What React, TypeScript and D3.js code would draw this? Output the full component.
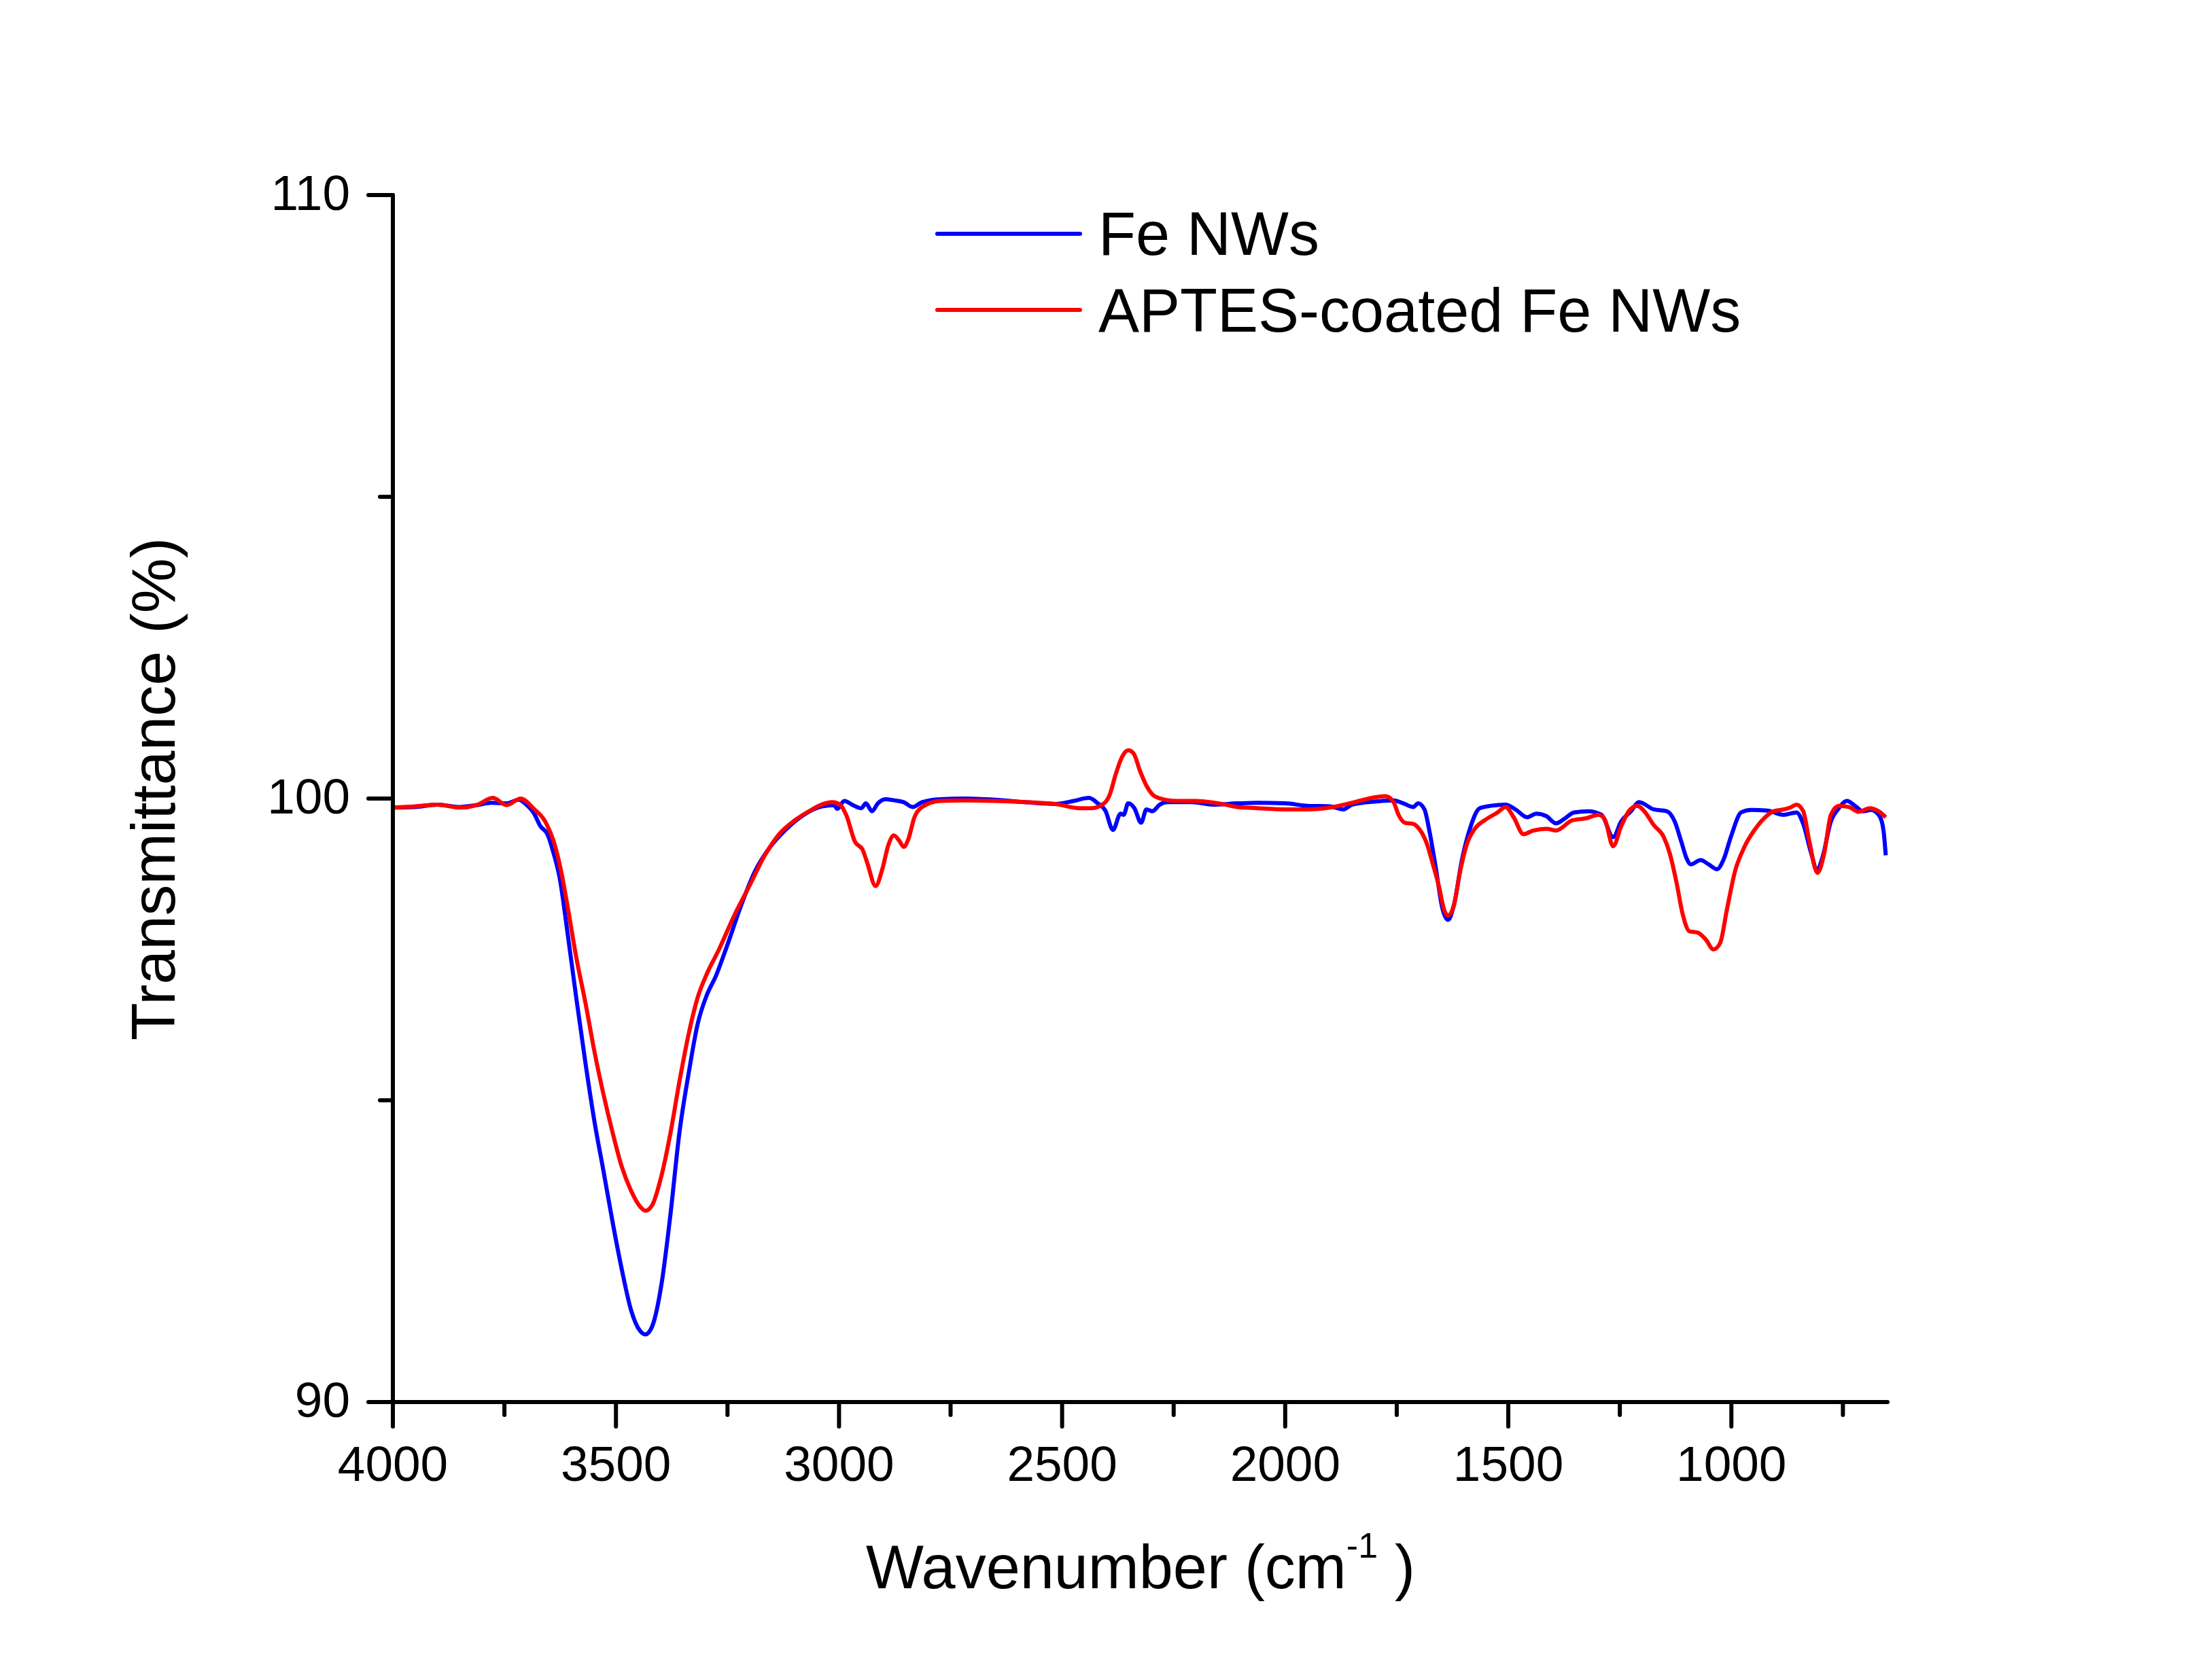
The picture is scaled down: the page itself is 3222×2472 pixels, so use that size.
import React from "react";
import * as d3 from "d3";

// ---------- data ----------
const feWn = [4000,3950,3900,3850,3813,3779,3745,3718,3701,3684,3670,3653,3640,3626,3609,3589,3568,3548,3528,3507,3487,3466,3446,3434,3419,3398,3378,3358,3337,3317,3296,3276,3249,3222,3188,3154,3120,3079,3038,3011,3004,2988,2971,2950,2940,2926,2913,2896,2876,2855,2835,2814,2773,2719,2651,2583,2515,2474,2440,2420,2403,2386,2369,2362,2352,2338,2323,2311,2298,2281,2264,2209,2162,2107,2061,2000,1950,1900,1870,1850,1800,1757,1735,1713,1702,1688,1677,1662,1648,1635,1622,1604,1586,1564,1539,1506,1484,1458,1437,1415,1393,1375,1353,1320,1291,1265,1247,1225,1207,1174,1145,1127,1112,1101,1091,1069,1051,1032,1018,1000,978,956,919,883,854,839,821,808,796,777,759,741,723,705,687,668,659,654];
const feT = [99.85,99.86,99.9,99.86,99.89,99.93,99.92,99.98,99.9,99.76,99.55,99.4,99.1,98.68,97.8,96.7,95.6,94.64,93.83,92.96,92.2,91.52,91.18,91.12,91.25,91.95,93.1,94.45,95.45,96.26,96.75,97.06,97.6,98.18,98.8,99.2,99.48,99.73,99.87,99.89,99.83,99.96,99.9,99.84,99.92,99.79,99.92,99.99,99.97,99.94,99.86,99.94,99.99,100.0,99.98,99.94,99.91,99.96,100.01,99.92,99.8,99.48,99.75,99.73,99.92,99.84,99.6,99.82,99.79,99.9,99.94,99.94,99.9,99.92,99.93,99.92,99.88,99.87,99.82,99.9,99.95,99.97,99.92,99.86,99.92,99.82,99.47,98.83,98.19,97.99,98.23,98.98,99.5,99.84,99.88,99.9,99.82,99.69,99.75,99.71,99.59,99.66,99.77,99.79,99.73,99.36,99.62,99.79,99.94,99.82,99.79,99.62,99.28,99.02,98.91,98.98,98.91,98.83,98.98,99.39,99.77,99.81,99.8,99.73,99.77,99.58,99.09,98.81,99.02,99.62,99.84,99.96,99.88,99.79,99.81,99.71,99.47,99.06];

const aptesWn = [4000,3950,3900,3850,3813,3776,3745,3714,3684,3657,3640,3623,3609,3589,3568,3548,3528,3507,3487,3466,3446,3434,3419,3398,3378,3358,3337,3317,3296,3269,3235,3201,3167,3133,3099,3065,3039,3015,2998,2984,2964,2947,2937,2918,2903,2889,2877,2865,2855,2845,2831,2814,2773,2719,2651,2583,2515,2461,2434,2406,2393,2380,2365,2352,2340,2325,2310,2295,2284,2243,2202,2148,2107,2061,2000,1950,1900,1850,1800,1775,1757,1746,1732,1713,1699,1684,1670,1655,1644,1635,1622,1608,1593,1575,1553,1524,1506,1488,1466,1444,1415,1393,1356,1327,1298,1284,1265,1247,1229,1211,1193,1174,1152,1138,1123,1109,1094,1076,1058,1040,1025,1010,992,970,949,927,905,883,868,854,839,825,807,792,777,759,737,715,690,668,654];
const aptesT = [99.85,99.87,99.9,99.85,99.89,100.01,99.89,100.0,99.83,99.6,99.3,98.8,98.24,97.37,96.6,95.8,95.1,94.45,93.9,93.5,93.24,93.17,93.26,93.75,94.45,95.3,96.1,96.7,97.1,97.5,98.06,98.55,99.05,99.42,99.64,99.8,99.9,99.94,99.9,99.73,99.28,99.15,98.94,98.55,98.83,99.24,99.39,99.3,99.2,99.32,99.69,99.86,99.96,99.97,99.96,99.94,99.91,99.84,99.84,99.92,100.07,100.4,100.7,100.8,100.75,100.45,100.2,100.05,100.01,99.96,99.96,99.92,99.86,99.84,99.82,99.82,99.85,99.93,100.02,100.04,99.94,99.73,99.6,99.58,99.49,99.28,98.94,98.53,98.16,98.06,98.23,98.79,99.24,99.5,99.64,99.77,99.86,99.69,99.41,99.47,99.5,99.47,99.64,99.67,99.73,99.66,99.21,99.54,99.8,99.88,99.77,99.56,99.37,99.09,98.61,98.08,97.8,97.78,97.67,97.5,97.61,98.16,98.79,99.21,99.47,99.67,99.79,99.82,99.85,99.9,99.79,99.28,98.77,99.09,99.73,99.88,99.86,99.78,99.84,99.78,99.69];

const xMajorTicks = [4000, 3500, 3000, 2500, 2000, 1500, 1000];
const xMinorTicks = [3750, 3250, 2750, 2250, 1750, 1250, 750];
const yMajorTicks = [90, 100, 110];
const yMinorTicks = [95, 105];
const seriesNames = ["Fe NWs", "APTES-coated Fe NWs"];
const seriesColors = ["#0000FF", "#FF0000"];

// ---------- layout ----------
const W = 3222;
const H = 2472;
const FONT = "'Liberation Sans', Arial, Helvetica, sans-serif";

export default function App() {
  const x = d3.scaleLinear().domain([4000, 650]).range([578, 2777]);
  const y = d3.scaleLinear().domain([90, 110]).range([2063, 287]);

  const line = d3
    .line<[number, number]>()
    .x((d) => x(d[0]))
    .y((d) => y(d[1]))
    .curve(d3.curveMonotoneX);

  const feData: [number, number][] = feWn.map((w, i) => [w, feT[i]]);
  const apData: [number, number][] = aptesWn.map((w, i) => [w, aptesT[i]]);

  const axisStroke = 6;
  const x0 = x(4000);
  const x1 = x(650);
  const y0 = y(90);
  const y1 = y(110);

  return (
    <svg
      width={W}
      height={H}
      viewBox={`0 0 ${W} ${H}`}
      style={{ position: "absolute", left: 0, top: 0, background: "#fff" }}
      fontFamily={FONT}
    >
      <rect x={0} y={0} width={W} height={H} fill="#fff" />

      {/* data lines */}
      <path d={line(feData) || ""} fill="none" stroke={seriesColors[0]} strokeWidth={6} strokeLinejoin="round" />
      <path d={line(apData) || ""} fill="none" stroke={seriesColors[1]} strokeWidth={6} strokeLinejoin="round" />

      {/* axes */}
      <g stroke="#000" strokeWidth={axisStroke} strokeLinecap="round">
        <line x1={x0} y1={y1} x2={x0} y2={y0} />
        <line x1={x0} y1={y0} x2={x1} y2={y0} />
        {xMajorTicks.map((t) => (
          <line key={"xM" + t} x1={x(t)} x2={x(t)} y1={y0} y2={y0 + 36} />
        ))}
        {xMinorTicks.map((t) => (
          <line key={"xm" + t} x1={x(t)} x2={x(t)} y1={y0} y2={y0 + 19} />
        ))}
        {yMajorTicks.map((t) => (
          <line key={"yM" + t} x1={x0 - 36} x2={x0} y1={y(t)} y2={y(t)} />
        ))}
        {yMinorTicks.map((t) => (
          <line key={"ym" + t} x1={x0 - 19} x2={x0} y1={y(t)} y2={y(t)} />
        ))}
      </g>

      {/* tick labels */}
      <g fontSize={73} fill="#000">
        {xMajorTicks.map((t) => (
          <text key={"xl" + t} x={x(t)} y={2179} textAnchor="middle">
            {t}
          </text>
        ))}
        {yMajorTicks.map((t) => (
          <text key={"yl" + t} x={515} y={y(t) + 22} textAnchor="end">
            {t}
          </text>
        ))}
      </g>

      {/* axis titles */}
      <text x={1274} y={2337} fontSize={90} fill="#000">
        <tspan>Wavenumber (cm</tspan>
        <tspan fontSize={52} dy={-45}>-1</tspan>
        <tspan fontSize={90} dy={45}> )</tspan>
      </text>
      <text
        transform={`translate(257, 1161) rotate(-90)`}
        fontSize={91}
        textAnchor="middle"
        fill="#000"
      >
        Transmittance (%)
      </text>

      {/* legend */}
      <g>
        <line x1={1379} x2={1589} y1={344} y2={344} stroke={seriesColors[0]} strokeWidth={6} strokeLinecap="round" />
        <text x={1616} y={375} fontSize={90} fill="#000">{seriesNames[0]}</text>
        <line x1={1379} x2={1589} y1={456} y2={456} stroke={seriesColors[1]} strokeWidth={6} strokeLinecap="round" />
        <text x={1616} y={488} fontSize={90} fill="#000">{seriesNames[1]}</text>
      </g>
    </svg>
  );
}
